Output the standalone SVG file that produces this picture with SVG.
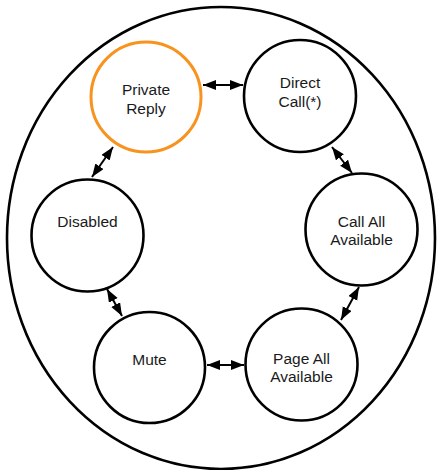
<svg xmlns="http://www.w3.org/2000/svg" width="440" height="470" viewBox="0 0 440 470">
<defs>
<marker id="ah" markerUnits="userSpaceOnUse" markerWidth="14" markerHeight="12" refX="13" refY="5" orient="auto-start-reverse">
<path d="M0,0 L13,5 L0,10 z" fill="#000"/>
</marker>
<style>
.n{fill:#fff;stroke:#000;stroke-width:2.6}
.o{fill:#fff;stroke:#f7931e;stroke-width:3}
.t{font-family:"Liberation Sans",Arial,sans-serif;font-size:15.5px;fill:#1a1a1a;text-anchor:middle}
.c{stroke:#000;stroke-width:2;fill:none;marker-start:url(#ah);marker-end:url(#ah)}
</style>
</defs>
<rect width="440" height="470" fill="#fff"/>
<ellipse cx="221" cy="238" rx="214" ry="231" fill="none" stroke="#000" stroke-width="2.6"/>
<g id="private-reply"><circle class="o" cx="146" cy="97" r="55"/><text class="t" x="146" y="95">Private</text><text class="t" x="146" y="114">Reply</text></g>
<g id="direct-call"><circle class="n" cx="300" cy="96" r="56"/><text class="t" x="300" y="88">Direct</text><text class="t" x="300" y="107">Call(*)</text></g>
<g id="disabled"><circle class="n" cx="87.5" cy="235.5" r="56"/><text class="t" x="87.5" y="227">Disabled</text></g>
<g id="call-all-available"><circle class="n" cx="361.5" cy="229.5" r="56"/><text class="t" x="361.5" y="227">Call All</text><text class="t" x="361.5" y="245">Available</text></g>
<g id="mute"><circle class="n" cx="149.5" cy="367.5" r="55.5"/><text class="t" x="149.5" y="365">Mute</text></g>
<g id="page-all-available"><circle class="n" cx="301.5" cy="364.5" r="56"/><text class="t" x="301.5" y="364">Page All</text><text class="t" x="301.5" y="382">Available</text></g>
<g id="connectors">
<line class="c" x1="203" y1="85" x2="243" y2="85"/>
<line class="c" x1="92" y1="177" x2="113" y2="147"/>
<line class="c" x1="332" y1="147" x2="352" y2="173"/>
<line class="c" x1="107" y1="289" x2="122" y2="316"/>
<line class="c" x1="359" y1="287" x2="341" y2="320"/>
<line class="c" x1="207" y1="365" x2="244" y2="365"/>
</g>
</svg>
